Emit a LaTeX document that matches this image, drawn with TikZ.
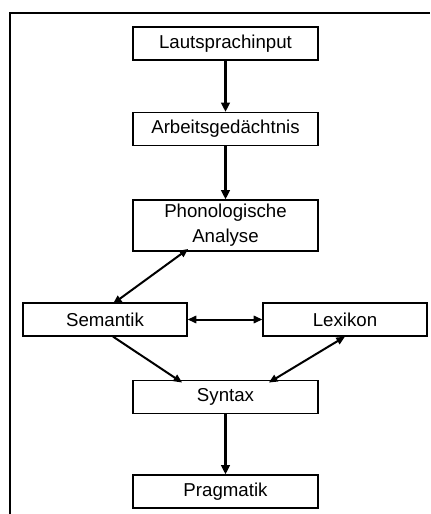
\documentclass[tikz,border=0pt]{standalone}
\usepackage{fontspec}
\setmainfont{Liberation Sans}
\usetikzlibrary{arrows.meta, positioning}

\tikzset{
  stage/.style={draw, line width=0.9pt, minimum width=138.75pt, minimum height=24.75pt, inner sep=0pt, font=\fontsize{14}{18.5}\selectfont, align=center},
  side/.style={stage, minimum width=123pt},
  flow/.style={-{Triangle[length=7pt,width=6.5pt]}, line width=2pt},
  link/.style={{Triangle[length=6.5pt,width=5.5pt]}-{Triangle[length=6.5pt,width=5.5pt]}, line width=1.5pt},
  onelink/.style={-{Triangle[length=6.5pt,width=5.5pt]}, line width=1.5pt}
}

\begin{document}
\begin{tikzpicture}[x=0.75pt,y=0.75pt,yscale=-1,xscale=1]
\useasboundingbox (0,0) rectangle (430,514);

%Frame
\draw [line width=0.8pt] (10,514) -- (10,13) -- (430,13) ;

% Text Node
\node [stage] (laut) at (225.5,43.5) {Lautsprachinput};
% Text Node
\node [stage] (arbeit) at (225.5,129) {Arbeitsgedächtnis};
% Text Node
\node [stage, minimum height=38.25pt] (phon) at (225.5,225.5) {Phonologische\\Analyse};
% Text Node
\node [side] (sem) at (105,319.5) {Semantik};
% Text Node
\node [side] (lex) at (345,319.5) {Lexikon};
% Text Node
\node [stage] (syn) at (225.5,397) {Syntax};
% Text Node
\node [stage] (prag) at (225.5,491.5) {Pragmatik};

%Straight Lines
\draw [flow] (laut) -- (arbeit) ;
\draw [flow] (arbeit) -- (phon) ;
\draw [flow] (syn) -- (prag) ;
%Straight Lines
\draw [link] ([xshift=-28pt,yshift=-2pt]phon.south) -- ([xshift=6pt,yshift=1pt]sem.north) ;
\draw [link] (sem.east) -- (lex.west) ;
\draw [onelink] ([xshift=6pt]sem.south) -- ([xshift=-32.5pt,yshift=2pt]syn.north) ;
\draw [link] (lex.south) -- ([xshift=32.5pt,yshift=2pt]syn.north) ;

\end{tikzpicture}
\end{document}
